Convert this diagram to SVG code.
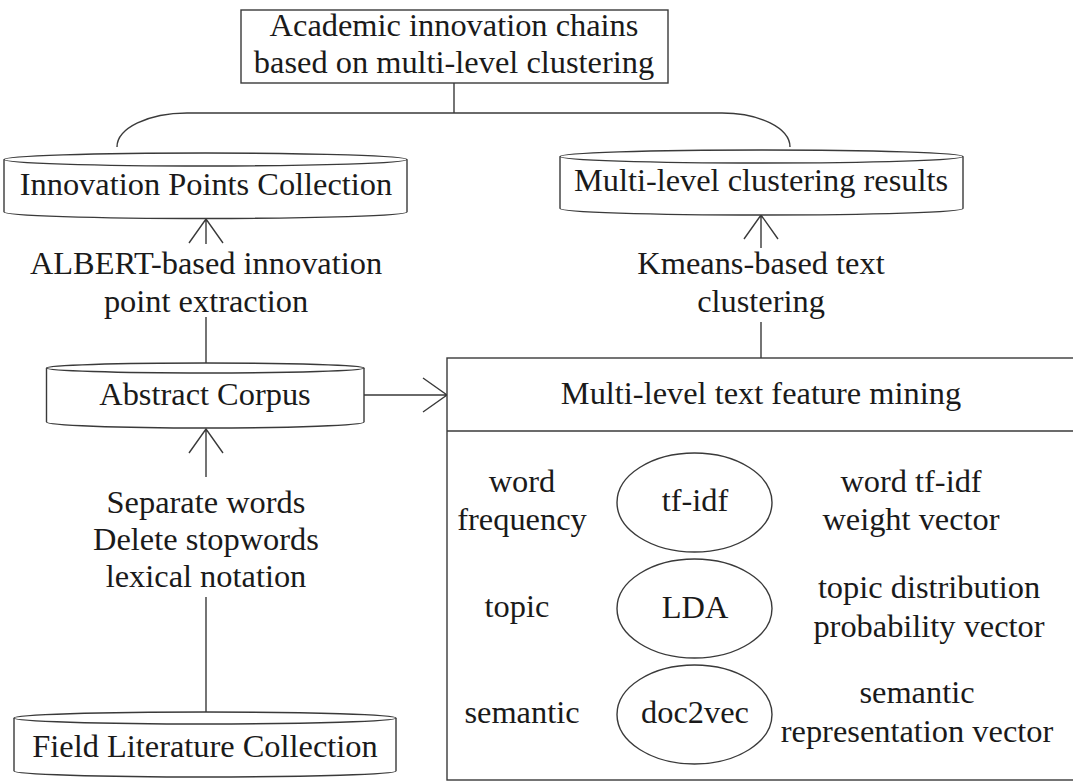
<svg xmlns="http://www.w3.org/2000/svg" width="1073" height="781" viewBox="0 0 1073 781">
<style>
.s{fill:#fff;stroke:#3a3a3a;stroke-width:1.4}
.l{fill:none;stroke:#3a3a3a;stroke-width:1.4}
text{font-family:"Liberation Serif","Times New Roman",serif;font-size:32.4px;fill:#1a1a1a;text-anchor:middle}
</style>
<rect width="1073" height="781" fill="#fff"/>
<g id="connectors">
<path class="l" d="M454,83 L454,113"/>
<path class="l" d="M117,147 A70 34 0 0 1 187,113 L722,113 A68 34 0 0 1 790,147"/>
<path class="l" d="M206,244 L206,219 M189,243 L206,219 L223,243"/>
<path class="l" d="M206,317 L206,363"/>
<path class="l" d="M206,477 L206,429 M189,453 L206,429 L223,453"/>
<path class="l" d="M206,597 L206,712"/>
<path class="l" d="M364,395 L447,395 M423,378 L447,395 L423,412"/>
<path class="l" d="M761,322 L761,358"/>
<path class="l" d="M761,248 L761,215 M744,239 L761,215 L778,239"/>
</g>
<g id="top">
<rect class="s" x="241" y="10" width="427" height="73"/>
<text x="454" y="36">Academic innovation chains</text>
<text x="454" y="73">based on multi-level clustering</text>
</g>
<g id="innovation">
<path class="s" d="M4,159.5 L4,212 A201.5 6.5 0 0 0 407,212 L407,159.5"/>
<ellipse class="s" cx="205.5" cy="159.5" rx="201.5" ry="6.5"/>
<text x="206" y="195">Innovation Points Collection</text>
</g>
<g id="clusterres">
<path class="s" d="M560,156.5 L560,208.5 A201.5 6.5 0 0 0 963,208.5 L963,156.5"/>
<ellipse class="s" cx="761.5" cy="156.5" rx="201.5" ry="6.5"/>
<text x="761" y="191">Multi-level clustering results</text>
</g>
<g id="albert">
<text x="206" y="274">ALBERT-based innovation</text>
<text x="206" y="312">point extraction</text>
</g>
<g id="kmeans">
<text x="761" y="274">Kmeans-based text</text>
<text x="761" y="312">clustering</text>
</g>
<g id="abstract">
<path class="s" d="M46.5,368 L46.5,422 A158.75 6 0 0 0 364,422 L364,368"/>
<ellipse class="s" cx="205.25" cy="368" rx="158.75" ry="5"/>
<text x="205" y="405">Abstract Corpus</text>
</g>
<g id="preprocess">
<text x="206" y="513">Separate words</text>
<text x="206" y="550">Delete stopwords</text>
<text x="206" y="587">lexical notation</text>
</g>
<g id="field">
<path class="s" d="M14,718 L14,771 A191 6 0 0 0 396,771 L396,718"/>
<ellipse class="s" cx="205" cy="718" rx="191" ry="6"/>
<text x="205" y="757">Field Literature Collection</text>
</g>
<g id="mining">
<rect class="s" x="447" y="358" width="640" height="422"/>
<path class="l" d="M447,431 L1080,431"/>
<text x="761" y="404">Multi-level text feature mining</text>
</g>
<g id="row1">
<text x="522" y="492">word</text>
<text x="522" y="530">frequency</text>
<ellipse class="s" cx="694.5" cy="502.5" rx="77.5" ry="49.5"/>
<text x="695" y="511">tf-idf</text>
<text x="911" y="492">word tf-idf</text>
<text x="911" y="530">weight vector</text>
</g>
<g id="row2">
<text x="517" y="617">topic</text>
<ellipse class="s" cx="694.5" cy="608.5" rx="77.5" ry="49.5"/>
<text x="695" y="618">LDA</text>
<text x="929" y="598">topic distribution</text>
<text x="929" y="637">probability vector</text>
</g>
<g id="row3">
<text x="522" y="723">semantic</text>
<ellipse class="s" cx="694.5" cy="714.5" rx="77.5" ry="49.5"/>
<text x="695" y="723">doc2vec</text>
<text x="917" y="703">semantic</text>
<text x="917" y="742">representation vector</text>
</g>
</svg>
